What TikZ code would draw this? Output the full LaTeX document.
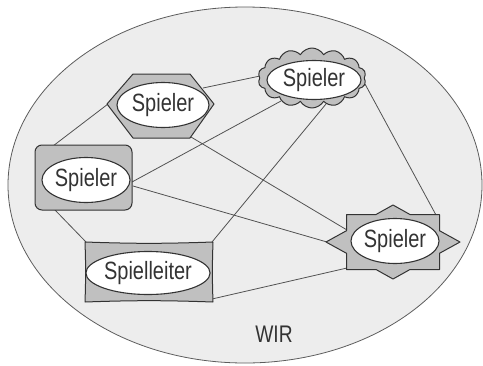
\documentclass[tikz,border=0pt]{standalone}
\usepackage{fontspec}
\setmainfont{Liberation Sans}[FakeStretch=0.8]
\usetikzlibrary{shapes.geometric,shapes.symbols}
\definecolor{bgfill}{HTML}{EDEDED}
\definecolor{shapefill}{HTML}{C0C0C0}
\definecolor{ink}{HTML}{333333}
\tikzset{
  conn/.style={draw=ink!85, line width=0.8pt},
  outer/.style={fill=shapefill, draw=ink, line width=1pt, line join=round},
  inner/.style={ellipse, fill=white, draw=ink, line width=1.1pt, inner sep=0pt,
    font=\fontsize{25}{30}\selectfont, text=ink},
}
\begin{document}
\begin{tikzpicture}[x=1pt,y=-1pt]
\useasboundingbox (0,0) rectangle (483,365);
% group ellipse
\node[ellipse, fill=bgfill, draw=ink!80, line width=0.8pt, minimum width=474pt, minimum height=356pt, inner sep=0pt] (wir) at (245,185) {};
\node[font=\fontsize{24}{28}\selectfont, text=ink] (wirlabel) at (274,334) {WIR};
% connection points
\coordinate (hexL) at (108,104);
\coordinate (hexTR) at (203,88);
\coordinate (hexBR) at (191,137);
\coordinate (cloL) at (260,76);
\coordinate (cloBL) at (281,101);
\coordinate (cloB) at (326,104);
\coordinate (cloR) at (365,84);
\coordinate (recTL) at (53,146);
\coordinate (recR1) at (132,182);
\coordinate (recR2) at (133,186);
\coordinate (recB) at (55,210);
\coordinate (slTL) at (86,242);
\coordinate (slTR) at (212,242);
\coordinate (slBR) at (212,299);
\coordinate (stL) at (327,242);
\coordinate (stLU) at (347,230);
\coordinate (stBL) at (347,268);
\coordinate (stTR) at (436,215);
% connectors
\draw[conn] (hexL) -- (recTL);
\draw[conn] (hexTR) -- (cloL);
\draw[conn] (hexBR) -- (stLU);
\draw[conn] (recR1) -- (cloBL);
\draw[conn] (recR2) -- (stL);
\draw[conn] (recB) -- (slTL);
\draw[conn] (slTR) -- (cloB);
\draw[conn] (slBR) -- (stBL);
\draw[conn] (cloR) -- (stTR);
% hexagon
\draw[outer] (107,104) -- (133,74) -- (190,74) -- (214,104) -- (190,138) -- (133,138) -- cycle;
% cloud
\node[cloud, outer, cloud puffs=14, cloud puff arc=120, aspect=1.8, minimum width=108pt, minimum height=60pt, inner sep=0pt] (cloud) at (312,78) {};
% rounded rectangle
\draw[outer, rounded corners=7pt] (35,145) rectangle (132,210);
% Spielleiter cushion
\draw[outer] (85,242) to[bend right=2] (213,242) to[bend right=2] (213,302) to[bend right=2] (85,302) to[bend right=2] (85,242) -- cycle;
% star
\begin{scope}[shift={(393,242)}]
\draw[outer] (0,-37) -- (17,-27.5) -- (46.5,-27.5) -- (46.5,-11.3) -- (67,0) -- (46.5,11.3) -- (46.5,27.5) -- (17,27.5) -- (0,37) -- (-17,27.5) -- (-46.5,27.5) -- (-46.5,11.3) -- (-67,0) -- (-46.5,-11.3) -- (-46.5,-27.5) -- (-17,-27.5) -- cycle;
\end{scope}
% inner ellipses
\node[inner, minimum width=92pt, minimum height=45pt] (p1) at (163,105) {Spieler};
\node[inner, minimum width=94pt, minimum height=39pt] (p2) at (314,80) {Spieler};
\node[inner, minimum width=88pt, minimum height=45pt] (p3) at (86,180) {Spieler};
\node[inner, minimum width=112pt, minimum height=43pt] (lead) at (148,273) {Spielleiter};
\node[inner, minimum width=86pt, minimum height=45pt] (p4) at (395,241) {Spieler};
\end{tikzpicture}
\end{document}
